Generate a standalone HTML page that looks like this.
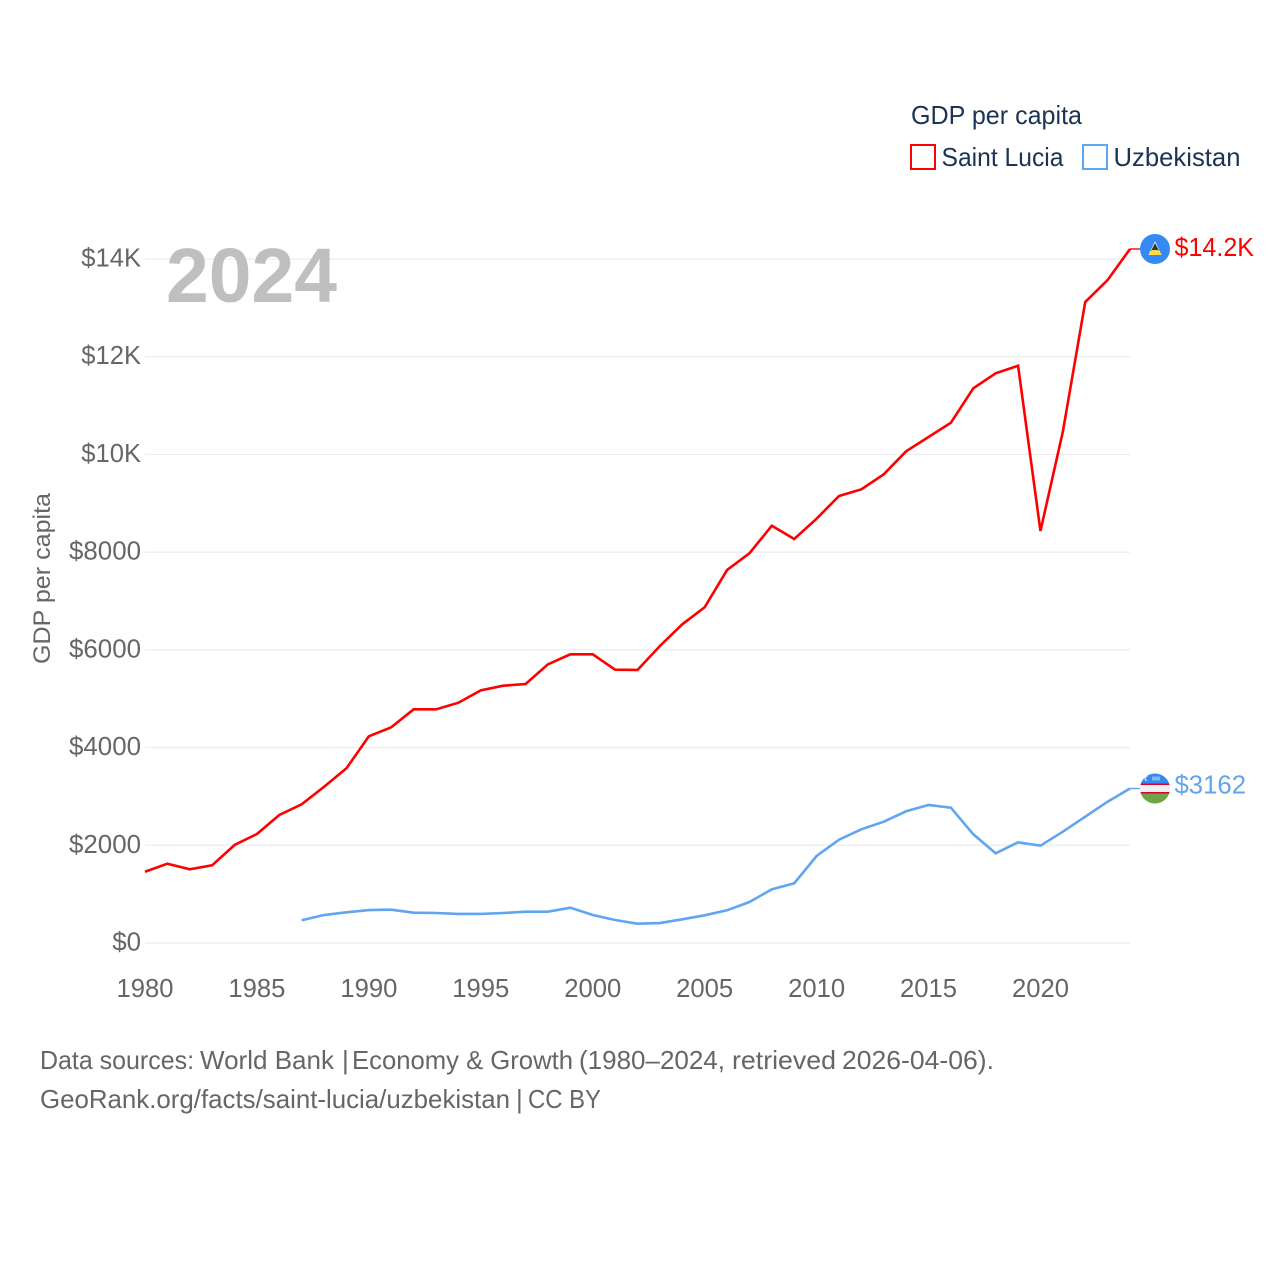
<!DOCTYPE html>
<html lang="en">
<head>
<meta charset="utf-8">
<title>GDP per capita: Saint Lucia and Uzbekistan</title>
<style>
html,body{margin:0;padding:0;background:#fff;width:1280px;height:1280px;overflow:hidden}
svg{display:block}
text{font-family:"Liberation Sans",sans-serif}
</style>
</head>
<body>
<svg id="chart" xmlns="http://www.w3.org/2000/svg" width="1280" height="1280" viewBox="0 0 1280 1280">
  <rect width="1280" height="1280" fill="#ffffff"/>
  <g id="grid"></g>
  <g id="ticks"></g>
  <text x="166" y="302" font-size="77" font-weight="700" fill="#bfbfbf" textLength="171" lengthAdjust="spacingAndGlyphs">2024</text>
  <text transform="translate(50,664) rotate(-90)" font-size="24" fill="#666666" textLength="171" lengthAdjust="spacingAndGlyphs">GDP per capita</text>
  <g id="series"></g>
  <g>
    <text x="911" y="124" font-size="26" fill="#1b3453" textLength="171" lengthAdjust="spacingAndGlyphs">GDP per capita</text>
    <rect x="911" y="145" width="24" height="24" fill="none" stroke="#ff0000" stroke-width="2"/>
    <text x="941.5" y="166" font-size="26" fill="#1b3453" textLength="122" lengthAdjust="spacingAndGlyphs">Saint Lucia</text>
    <rect x="1083" y="145" width="24" height="24" fill="none" stroke="#60a5f0" stroke-width="2"/>
    <text x="1113.5" y="166" font-size="26" fill="#1b3453" textLength="127" lengthAdjust="spacingAndGlyphs">Uzbekistan</text>
  </g>
  <defs>
    <clipPath id="flag-clip"><circle cx="0" cy="0" r="15"/></clipPath>
  </defs>
  <g id="flag-lc" clip-path="url(#flag-clip)">
    <rect x="-15" y="-15" width="30" height="30" fill="#338af3"/>
    <polygon points="0,-8 6.5,6 -6.5,6" fill="#f0f0f0"/>
    <polygon points="0,-6 4,2 -4,2" fill="#333333"/>
    <polygon points="-3,1 3,1 6.5,6 -6.5,6" fill="#ffda44"/>
  </g>
  <g id="flag-uz" clip-path="url(#flag-clip)">
    <rect x="-15" y="-15" width="30" height="30" fill="#f0f0f0"/>
    <rect x="-15" y="-15" width="30" height="10" fill="#338af3"/>
    <rect x="-15" y="5" width="30" height="10" fill="#6da544"/>
    <rect x="-15" y="-5" width="30" height="1.5" fill="#d80027"/>
    <rect x="-15" y="3.5" width="30" height="1.5" fill="#d80027"/>
    <circle cx="-8" cy="-10" r="2.5" fill="#f0f0f0"/>
    <circle cx="-7" cy="-10" r="2.2" fill="#338af3"/>
    <rect x="-3" y="-12" width="8" height="4" fill="#7fb6f5"/>
  </g>
  <g>
    <text y="1069" font-size="26" fill="#666666"><tspan x="40" textLength="154" lengthAdjust="spacingAndGlyphs">Data sources:</tspan> <tspan x="200" textLength="134" lengthAdjust="spacingAndGlyphs">World Bank</tspan> <tspan x="342">|</tspan> <tspan x="352" textLength="221" lengthAdjust="spacingAndGlyphs">Economy &amp; Growth</tspan> <tspan x="579" textLength="146" lengthAdjust="spacingAndGlyphs">(1980–2024,</tspan> <tspan x="732" textLength="104" lengthAdjust="spacingAndGlyphs">retrieved</tspan> <tspan x="842" textLength="152" lengthAdjust="spacingAndGlyphs">2026-04-06).</tspan></text>
    <text y="1108" font-size="26" fill="#666666"><tspan x="40" textLength="470" lengthAdjust="spacingAndGlyphs">GeoRank.org/facts/saint-lucia/uzbekistan</tspan> <tspan x="516">|</tspan> <tspan x="528" textLength="73" lengthAdjust="spacingAndGlyphs">CC BY</tspan></text>
  </g>
</svg>
<script>
const years = [1980,1981,1982,1983,1984,1985,1986,1987,1988,1989,1990,1991,1992,1993,1994,1995,1996,1997,1998,1999,2000,2001,2002,2003,2004,2005,2006,2007,2008,2009,2010,2011,2012,2013,2014,2015,2016,2017,2018,2019,2020,2021,2022,2023,2024];
const saintLucia = [1459,1623,1508,1590,2006,2231,2620,2839,3199,3576,4231,4415,4783,4783,4918,5172,5266,5301,5704,5909,5909,5594,5588,6079,6523,6871,7634,7976,8541,8269,8685,9149,9286,9593,10064,10357,10649,11354,11660,11816,8433,10465,13120,13570,14205];
const uzbekistan = [null,null,null,null,null,null,null,465,573,628,675,682,620,614,594,594,614,641,641,723,573,471,395,409,485,567,669,839,1099,1222,1781,2114,2327,2483,2696,2825,2769,2225,1836,2061,1992,2278,2585,2892,3162];
const yTickValues = [0,2000,4000,6000,8000,10000,12000,14000];
const yTickLabels = ["$0","$2000","$4000","$6000","$8000","$10K","$12K","$14K"];
const xTickValues = [1980,1985,1990,1995,2000,2005,2010,2015,2020];
const endLabels = ["$14.2K","$3162"];

const SVG_NS = "http://www.w3.org/2000/svg";
const xAxis = function (year) { return 145 + (year - 1980) * (1130 - 145) / 44; };
const yAxis = function (value) { return 943 - value * (943 - 259) / 14000; };
const makeEl = function (tag, attrs, parent) {
  const el = document.createElementNS(SVG_NS, tag);
  Object.keys(attrs).forEach(function (k) { el.setAttribute(k, attrs[k]); });
  parent.appendChild(el);
  return el;
};
const estimateWidth = function (label) {
  let w = 0;
  for (const ch of label) { w += ch === "K" ? 16.5 : 14.4; }
  return w;
};

const grid = document.getElementById("grid");
const ticks = document.getElementById("ticks");
const series = document.getElementById("series");

yTickValues.forEach(function (value, i) {
  const y = yAxis(value);
  const line = makeEl("line", {x1: 145, x2: 1130, y1: y, y2: y, stroke: "#ececec", "stroke-width": 1.2}, grid);
  
  
  const label = makeEl("text", {x: 141, y: y + 7.5, "text-anchor": "end", "font-size": 26, fill: "#666666", textLength: estimateWidth(yTickLabels[i]), lengthAdjust: "spacingAndGlyphs"}, ticks);
  
  
  label.textContent = yTickLabels[i];
});

xTickValues.forEach(function (year) {
  const label = makeEl("text", {x: xAxis(year), y: 997, "text-anchor": "middle", "font-size": 26, fill: "#666666", textLength: 57, lengthAdjust: "spacingAndGlyphs"}, ticks);
  
  
  label.textContent = String(year);
});

const linePoints = function (values) {
  const pts = [];
  values.forEach(function (v, i) {
    if (v !== null) { pts.push(xAxis(years[i]).toFixed(2) + "," + yAxis(v).toFixed(2)); }
  });
  return pts.join(" ");
};

const lcPath = makeEl("polyline", {points: linePoints(saintLucia), fill: "none", stroke: "#ff0000", "stroke-width": 2.6, "stroke-linejoin": "miter"}, series);



const uzPath = makeEl("polyline", {points: linePoints(uzbekistan), fill: "none", stroke: "#60a5f0", "stroke-width": 2.6, "stroke-linejoin": "miter"}, series);



const lcEndY = yAxis(saintLucia[saintLucia.length - 1]);
const uzEndY = yAxis(uzbekistan[uzbekistan.length - 1]);
const endX = xAxis(years[years.length - 1]);

const lcConnector = makeEl("line", {x1: endX, x2: endX + 10, y1: lcEndY, y2: lcEndY, stroke: "#ff0000", "stroke-width": 1.4}, series);



const uzConnector = makeEl("line", {x1: endX, x2: endX + 10, y1: uzEndY, y2: uzEndY, stroke: "#60a5f0", "stroke-width": 1.4}, series);



const lcLabel = makeEl("text", {x: 1174.5, y: lcEndY + 7, "font-size": 26, fill: "#ff0000", textLength: 79.5, lengthAdjust: "spacingAndGlyphs"}, series);


lcLabel.textContent = endLabels[0];

const uzLabel = makeEl("text", {x: 1174.5, y: uzEndY + 5, "font-size": 26, fill: "#60a5f0", textLength: 71.5, lengthAdjust: "spacingAndGlyphs"}, series);


uzLabel.textContent = endLabels[1];

document.getElementById("flag-lc").setAttribute("transform", "translate(1155," + lcEndY + ")");
document.getElementById("flag-uz").setAttribute("transform", "translate(1155," + uzEndY + ")");
</script>
</body>
</html>
